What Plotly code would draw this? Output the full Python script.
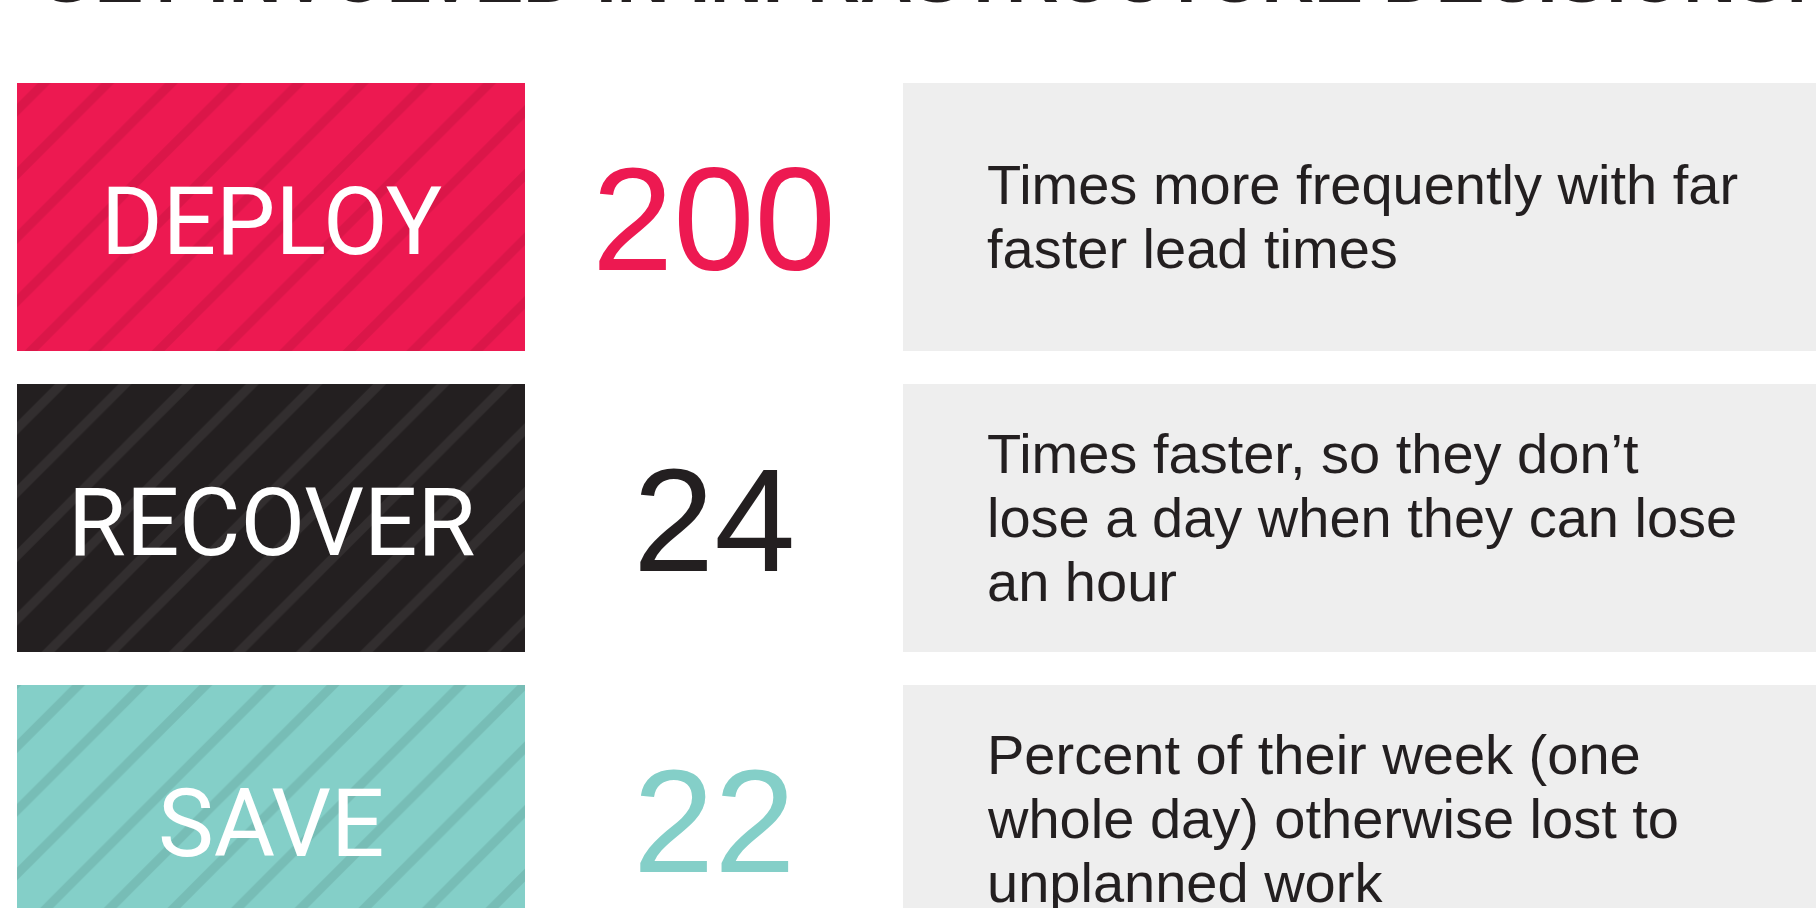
import plotly.graph_objects as go

# ---- data ----
categories = ["DEPLOY", "RECOVER", "SAVE"]
values = [200, 24, 22]
descriptions = [
    ["Times more frequently with far", "faster lead times"],
    ["Times faster, so they don\u2019t", "lose a day when they can lose", "an hour"],
    ["Percent of their week (one", "whole day) otherwise lost to", "unplanned work"],
]
title_text = "GET INVOLVED IN INFRASTRUCTURE DECISIONS!"

# ---- styles ----
box_colors = ["#ED1951", "#231F20", "#84CFC8"]
stripe_colors = ["#DB1649", "#322E2F", "#77BDB6"]
number_colors = ["#ED1951", "#231F20", "#84CFC8"]
grey = "#EEEEEE"
text_dark = "#231F20"

W, H = 1816, 908
pitch = 301.0
first_center = 216.5
box_h = 268.0
label_left, label_width = 17, 508
num_x = 714
panel_left = 903
desc_x = 985
line_gap = 64

fig = go.Figure()

for i, cat in enumerate(categories):
    fig.add_trace(go.Bar(
        orientation="h", y=[cat], x=[label_width], base=[label_left],
        width=box_h / pitch,
        marker=dict(color=box_colors[i], line=dict(width=0),
                    pattern=dict(shape="/", size=45, solidity=0.2,
                                 fgcolor=stripe_colors[i], bgcolor=box_colors[i],
                                 fgopacity=1, fillmode="replace")),
        hoverinfo="skip", showlegend=False,
    ))

fig.add_trace(go.Bar(
    orientation="h", y=categories, x=[W - panel_left + 20] * len(categories),
    base=[panel_left] * len(categories), width=box_h / pitch,
    marker=dict(color=grey, line=dict(width=0)),
    hoverinfo="skip", showlegend=False,
))

annotations = []
for i, cat in enumerate(categories):
    # category label inside striped box
    annotations.append(dict(
        x=label_left + label_width / 2, y=cat, xref="x", yref="y", text=cat,
        showarrow=False, xanchor="center", yanchor="middle", yshift=-5,
        font=dict(family="Roboto", size=94, color="white"),
    ))
    # big number
    annotations.append(dict(
        x=num_x, y=cat, xref="x", yref="y", text=str(values[i]),
        showarrow=False, xanchor="center", yanchor="middle", yshift=-3,
        font=dict(family="Liberation Sans", size=146, color=number_colors[i]),
    ))
    # description lines
    lines = descriptions[i]
    n = len(lines)
    for j, ln in enumerate(lines):
        annotations.append(dict(
            x=desc_x, y=cat, xref="x", yref="y", text=ln, showarrow=False,
            xanchor="left", yanchor="middle",
            yshift=-(j - (n - 1) / 2) * line_gap,
            font=dict(family="Liberation Sans", size=56, color=text_dark),
        ))

annotations.append(dict(
    x=923 / W, y=1, xref="paper", yref="paper", text="<b>" + title_text + "</b>",
    showarrow=False, xanchor="center", yanchor="bottom", yshift=-19,
    font=dict(family="Liberation Sans", size=73, color=text_dark),
))

y_top = -first_center / pitch
y_bottom = y_top + H / pitch

fig.update_layout(
    width=W, height=H, margin=dict(l=0, r=0, t=0, b=0),
    paper_bgcolor="white", plot_bgcolor="white",
    barmode="overlay", bargap=0,
    xaxis=dict(range=[0, W], visible=False, fixedrange=True),
    yaxis=dict(type="category", categoryorder="array", categoryarray=categories,
               range=[y_bottom, y_top], visible=False, fixedrange=True),
    annotations=annotations,
)

fig.write_html("out.html", config={"displayModeBar": False},
               post_script="document.body.style.margin='0';document.body.style.overflow='hidden';")
